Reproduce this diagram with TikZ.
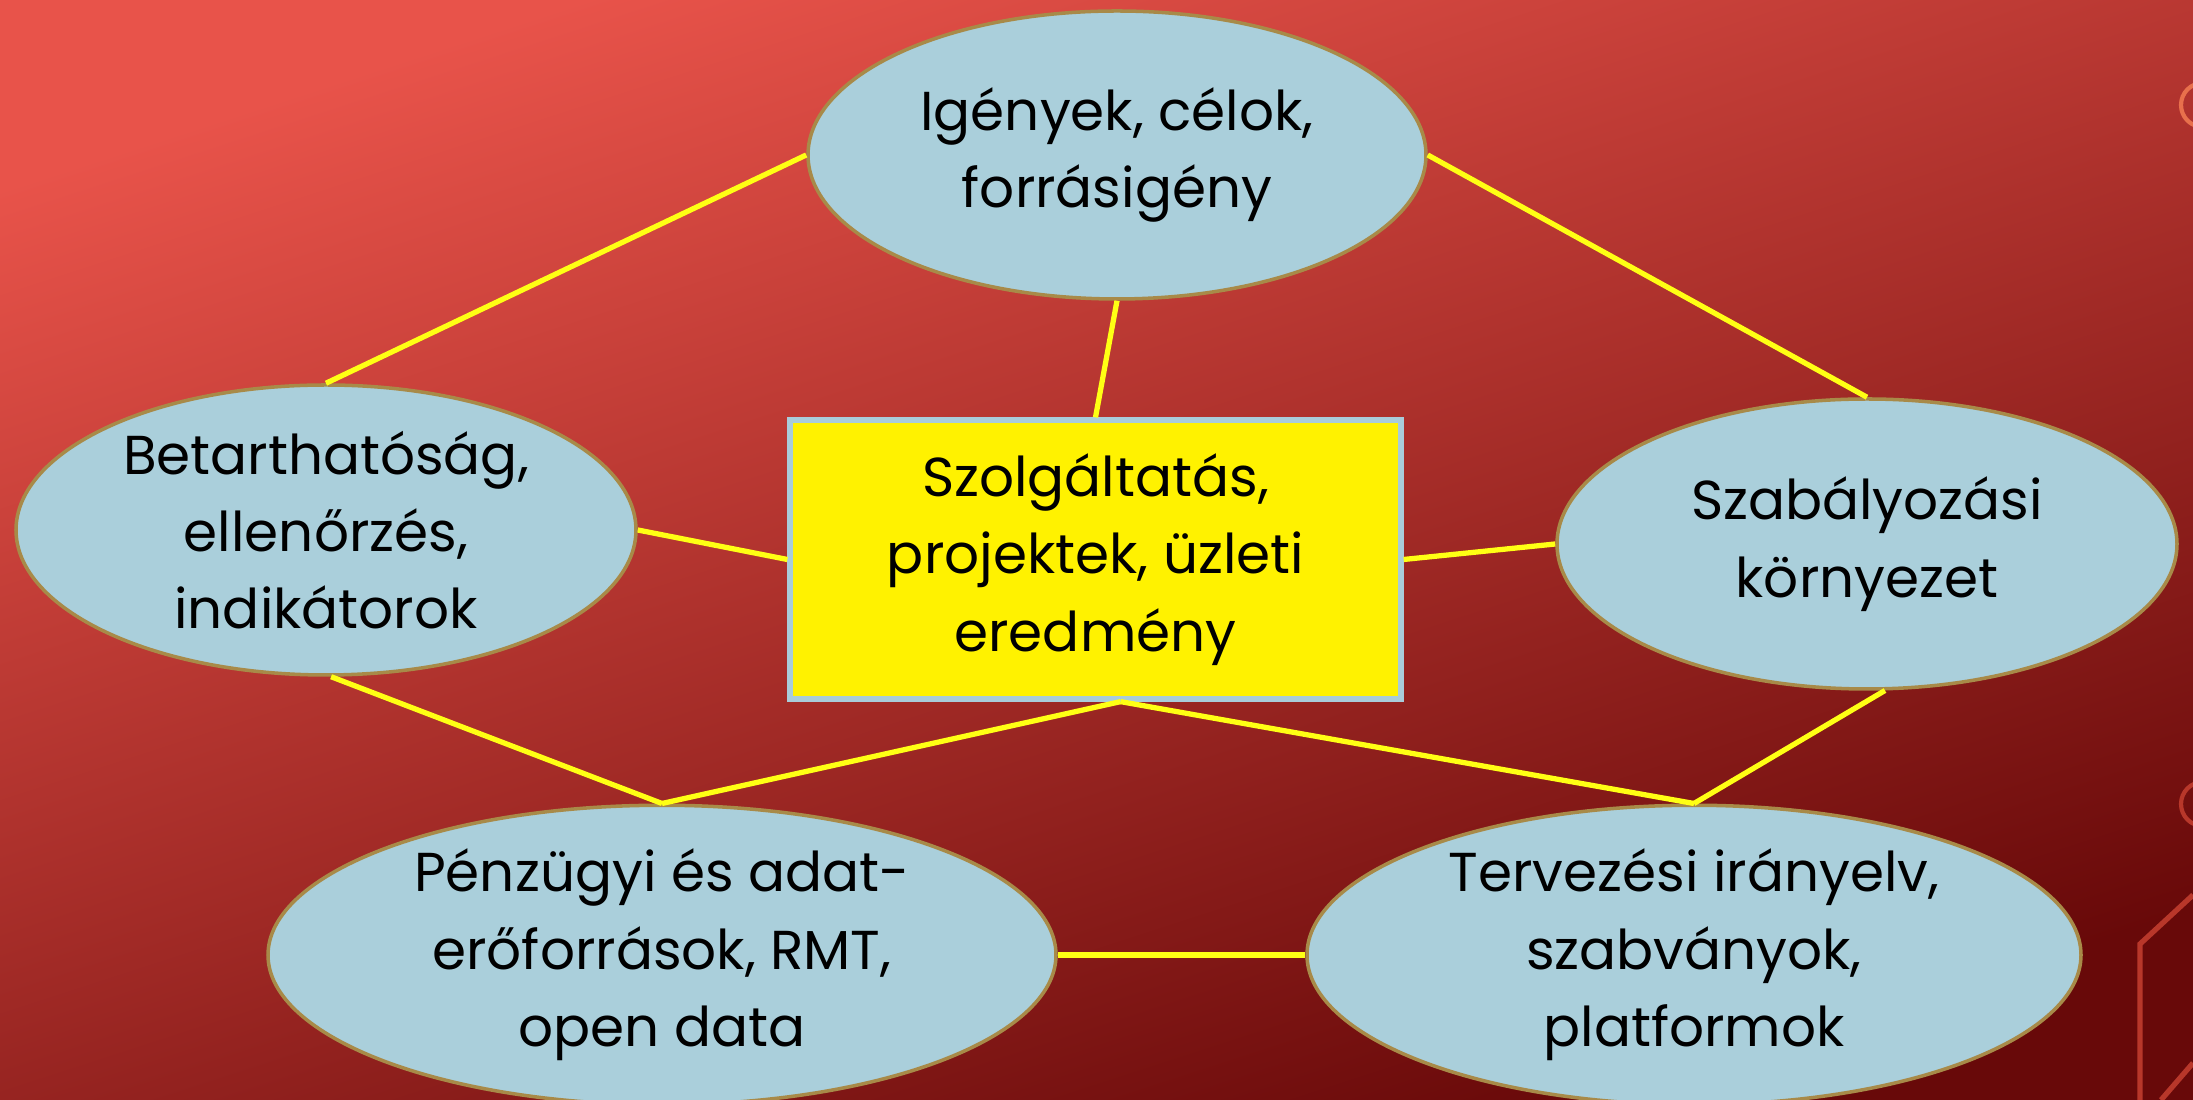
\documentclass[tikz,border=0pt]{standalone}
\usepackage{fontspec}
\setmainfont{Poppins}
\usetikzlibrary{shapes.geometric,calc}
\definecolor{bgtop}{HTML}{E8534A}
\definecolor{bgmid}{HTML}{CB3A33}
\definecolor{bgbot}{HTML}{680909}
\definecolor{bubble}{HTML}{AACFDB}
\definecolor{rim}{HTML}{A88A48}
\definecolor{boxrim}{HTML}{A9CCDA}
\definecolor{link}{HTML}{FFFF14}
\definecolor{deco}{HTML}{E8704C}
\definecolor{decodark}{HTML}{B8372A}

\begin{document}
\begin{tikzpicture}[scale=1,
  bubble/.style={ellipse,draw=rim,line width=1pt,fill=bubble,inner sep=0pt,
    align=center,font=\fontsize{15.6}{22}\selectfont},
  core/.style={rectangle,draw=boxrim,line width=1.5pt,fill=yellow,inner sep=0pt,
    minimum width=6.11cm,minimum height=2.79cm,align=center,
    font=\fontsize{15.6}{22}\selectfont},
  link/.style={draw=link,line width=1.5pt}]
  %\draw[help lines] (0,0) grid (22,11);
  \useasboundingbox (0,0) rectangle (21.93,11);
  \shade[top color=bgtop,middle color=bgmid,bottom color=bgbot,shading angle=18]
    (0,0) rectangle (21.93,11);
  % decorations at the right edge
  \draw[deco,line width=1.2pt] (22.03,9.95) circle (0.22);
  \draw[decodark,line width=1.2pt] (22.03,2.96) circle (0.22);
  \draw[decodark,line width=1.5pt] (21.93,2.05) -- (21.40,1.56) -- (21.40,0);
  \draw[decodark,line width=1.5pt] (21.61,0) -- (21.93,0.37);

  \node[bubble,minimum width=6.18cm,minimum height=2.88cm] (need) at (11.17,9.45)
    {Igények, célok,\\ forrásigény};
  \node[bubble,minimum width=6.20cm,minimum height=2.90cm] (check) at (3.26,5.70)
    {Betarthatóság,\\ ellenőrzés,\\ indikátorok};
  \node[bubble,minimum width=6.20cm,minimum height=2.90cm] (rule) at (18.67,5.56)
    {Szabályozási\\ környezet};
  \node[bubble,minimum width=7.88cm,minimum height=2.90cm] (fund) at (6.62,1.45)
    {Pénzügyi és adat-\\ erőforrások, RMT,\\ open data};
  \node[bubble,minimum width=7.74cm,minimum height=2.90cm] (plan) at (16.94,1.45)
    {Tervezési irányelv,\\ szabványok,\\ platformok};
  \node[core] (serv) at (10.955,5.405)
    {Szolgáltatás,\\ projektek, üzleti\\ eredmény};

  \draw[link] (need.west) -- (check.north);
  \draw[link] (need.east) -- (rule.north);
  \draw[link] (need.south) -- (serv.north);
  \draw[link] (check.east) -- (serv.west);
  \draw[link] (serv.east) -- (rule.west);
  \draw[link] (check.-88) -- (fund.north);
  \draw[link] (serv.-80) -- (fund.north);
  \draw[link] (serv.-80) -- (plan.north);
  \draw[link] (rule.-83) -- (plan.north);
  \draw[link] (fund.east) -- (plan.west);
\end{tikzpicture}
\end{document}
